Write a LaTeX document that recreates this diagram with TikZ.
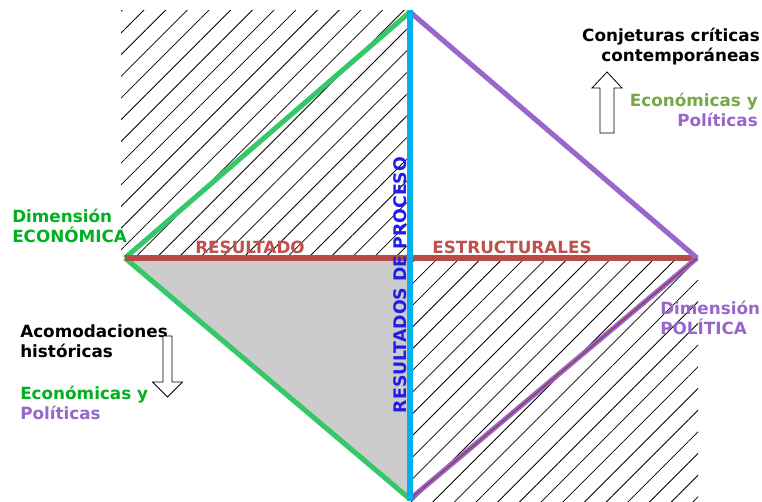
\documentclass[tikz,border=0pt]{standalone}
\usepackage{fontspec}
\setmainfont{DejaVu Sans}
\usetikzlibrary{positioning,patterns.meta}
\definecolor{econ}{HTML}{36C868}
\definecolor{econtxt}{HTML}{00B020}
\definecolor{olivetxt}{HTML}{76A847}
\definecolor{poli}{HTML}{9966CC}
\definecolor{estr}{HTML}{B84A48}
\definecolor{estrtxt}{HTML}{C0504D}
\definecolor{proc}{HTML}{00B0F0}
\definecolor{proctxt}{HTML}{1E1EE8}
\tikzset{
  hatch/.style={pattern={Lines[angle=45,distance=11.5pt,line width=0.6pt]},pattern color=black},
  dimline/.style={line width=3.8pt},
  lbl/.style={font=\bfseries\fontsize{12.6}{15}\selectfont,inner sep=0pt},
  blockarr/.style={draw=black,fill=white,line width=0.6pt,line join=miter},
}

\begin{document}
\begin{tikzpicture}[x=0.75pt,y=-0.75pt]
  \useasboundingbox (0,0) rectangle (762,501);
  % vertices of the rhombus
  \coordinate (top) at (410,12);
  \coordinate (left) at (125,258);
  \coordinate (right) at (697,258);
  \coordinate (bot) at (410,499);
  \coordinate (ctr) at (410,258);
  % hatched quadrants and grey triangle
  \fill[hatch] (121,10) rectangle (409,258);
  \fill[hatch] (411,258) rectangle (698,501);
  \fill[black!20] (left) -- (ctr) -- (bot) -- cycle;
  % the four sides and the two axes
  \draw[dimline,econ] (left) -- (top);
  \draw[dimline,econ] (left) -- (bot);
  \draw[line width=4.5pt,estr] (left) -- (right);
  \draw[dimline,poli] (top) -- (right);
  \draw[dimline,poli] (bot) -- (right);
  \draw[line width=0.8pt,estr!80!black] (bot) -- (right);
  \draw[line width=4.5pt,proc] (410,10) -- (410,501);
  % labels on the axes
  \node[lbl,text=estrtxt] (res) at (250,247) {RESULTADO};
  \node[lbl,text=estrtxt] (estruct) at (512,247) {ESTRUCTURALES};
  \node[lbl,text=proctxt,rotate=90,font=\bfseries\fontsize{13}{15}\selectfont] (proceso)
    at (400.5,285) {RESULTADOS DE PROCESO};
  % dimension labels
  \node[lbl,text=econtxt,align=left,anchor=west] (dimecon) at (12,226)
    {Dimensión\\ECONÓMICA};
  \node[lbl,text=poli,align=left,anchor=west] (dimpoli) at (660,318)
    {Dimensión\\POLÍTICA};
  % upper right: critical conjectures
  \node[lbl,align=right,anchor=east] (conj) at (760,47)
    {Conjeturas críticas\\contemporáneas};
  \node[lbl,align=right,anchor=east] (ecpo1) at (758,110)
    {\textcolor{olivetxt}{Económicas y}\\\textcolor{poli}{Políticas}};
  \draw[blockarr] (600,133) -- (600,88) -- (592,88) -- (607,72) -- (622,88)
    -- (614,88) -- (614,133) -- cycle;
  % lower left: historical accommodations
  \node[lbl,align=left,anchor=west] (acom) at (20,341)
    {Acomodaciones\\históricas};
  \node[lbl,align=left,anchor=west] (ecpo2) at (20,403)
    {\textcolor{econtxt}{Económicas y}\\\textcolor{poli}{Políticas}};
  \draw[blockarr] (163,336) -- (163,382) -- (152.5,382) -- (167.5,397) -- (182.5,382)
    -- (172,382) -- (172,336) -- cycle;
\end{tikzpicture}
\end{document}
